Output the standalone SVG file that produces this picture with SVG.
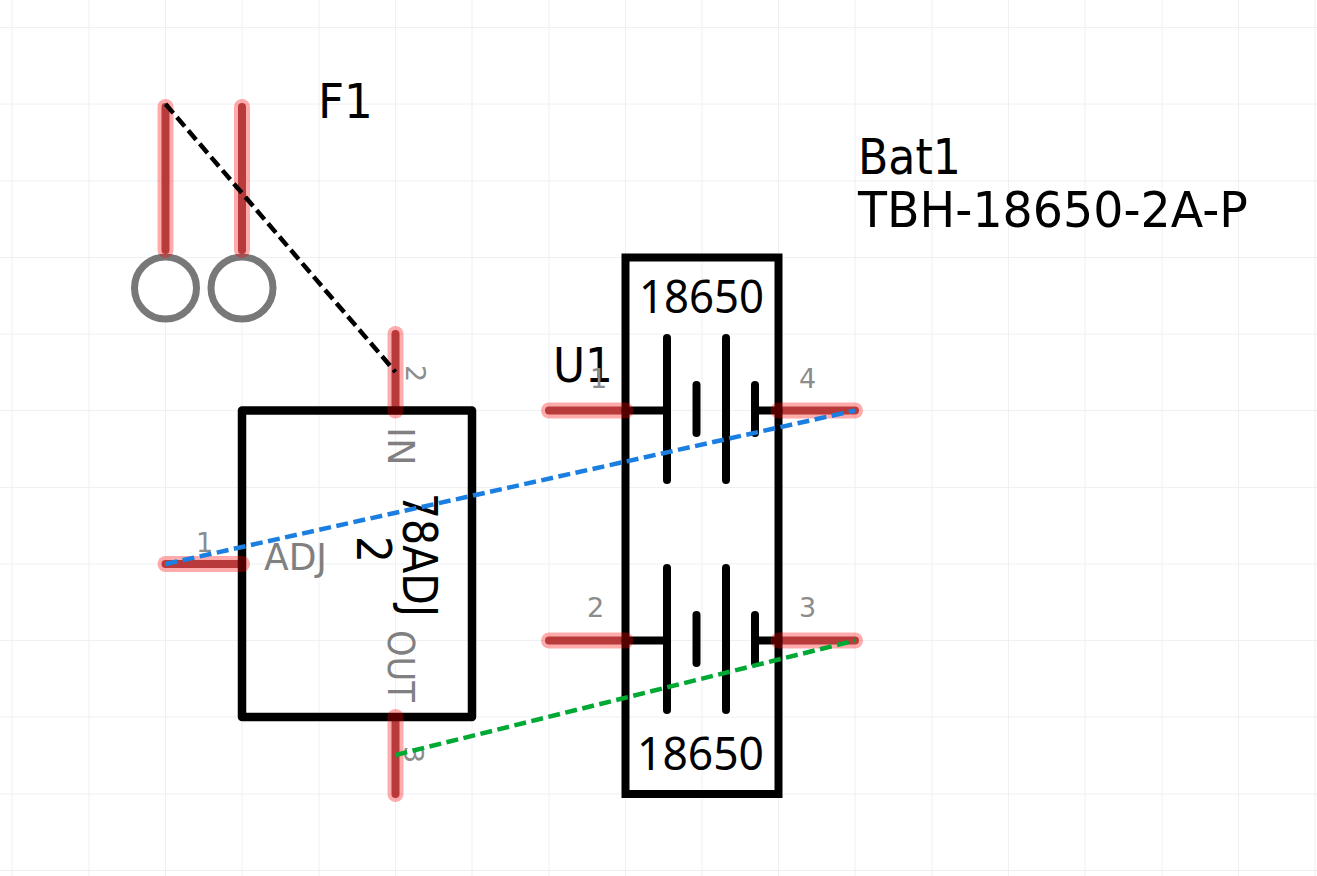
<svg xmlns="http://www.w3.org/2000/svg" width="1317" height="876" viewBox="0 0 1317 876">
<style>
text{font-family:"DejaVu Sans",sans-serif}
.grid line{stroke:#eef0f3;stroke-width:1}
.glow{stroke:#ff0000;stroke-opacity:.33;stroke-width:16;stroke-linecap:round;fill:none}
.pin{stroke:#965757;stroke-width:8;stroke-linecap:round;fill:none}
.box{stroke:#000;stroke-width:8.5;stroke-linejoin:round;fill:none}
.box2{stroke:#000;stroke-width:8;stroke-linejoin:miter;fill:none}
.blk{stroke:#000;stroke-width:8;stroke-linecap:round;fill:none}
.gry{stroke:#787878;stroke-width:7;fill:#fff}
.t{font-size:48px;fill:#000}
.d{font-family:"Noto Sans",sans-serif;font-size:46px;fill:#000}
.l{font-size:37px;fill:#808080}
.n{font-size:27px;fill:#8c8c8c}
.c{fill:none;stroke-width:4.5;stroke-dasharray:12 5.5}
</style>
<rect width="1317" height="876" fill="#fff"/>
<g class="grid">
<line x1="12" y1="0" x2="12" y2="876"/><line x1="89" y1="0" x2="89" y2="876"/><line x1="165.5" y1="0" x2="165.5" y2="876"/><line x1="242" y1="0" x2="242" y2="876"/><line x1="319" y1="0" x2="319" y2="876"/><line x1="395.5" y1="0" x2="395.5" y2="876"/><line x1="472" y1="0" x2="472" y2="876"/><line x1="549" y1="0" x2="549" y2="876"/><line x1="625.5" y1="0" x2="625.5" y2="876"/><line x1="702" y1="0" x2="702" y2="876"/><line x1="778.5" y1="0" x2="778.5" y2="876"/><line x1="855" y1="0" x2="855" y2="876"/><line x1="932" y1="0" x2="932" y2="876"/><line x1="1008.5" y1="0" x2="1008.5" y2="876"/><line x1="1085" y1="0" x2="1085" y2="876"/><line x1="1162" y1="0" x2="1162" y2="876"/><line x1="1238.5" y1="0" x2="1238.5" y2="876"/><line x1="1315" y1="0" x2="1315" y2="876"/>
<line x1="0" y1="27.5" x2="1317" y2="27.5"/><line x1="0" y1="104" x2="1317" y2="104"/><line x1="0" y1="181" x2="1317" y2="181"/><line x1="0" y1="257.5" x2="1317" y2="257.5"/><line x1="0" y1="334" x2="1317" y2="334"/><line x1="0" y1="410.5" x2="1317" y2="410.5"/><line x1="0" y1="487.5" x2="1317" y2="487.5"/><line x1="0" y1="564" x2="1317" y2="564"/><line x1="0" y1="640.5" x2="1317" y2="640.5"/><line x1="0" y1="717" x2="1317" y2="717"/><line x1="0" y1="794" x2="1317" y2="794"/><line x1="0" y1="870.5" x2="1317" y2="870.5"/>
</g>
<g id="F1">
<circle class="gry" cx="165.500" cy="288" r="31"/>
<circle class="gry" cx="242" cy="288" r="31"/>
<line class="pin" x1="165.5" y1="107" x2="165.5" y2="250"/><line class="glow" x1="165.5" y1="107" x2="165.5" y2="250"/>
<line class="pin" x1="242" y1="107" x2="242" y2="250"/><line class="glow" x1="242" y1="107" x2="242" y2="250"/>
<text class="t" x="318" y="118" textLength="55" lengthAdjust="spacingAndGlyphs">F1</text>
</g>
<g id="U1">
<line class="pin" x1="395.5" y1="334" x2="395.5" y2="410.5"/>
<line class="pin" x1="165.5" y1="564" x2="242" y2="564"/>
<line class="pin" x1="395.5" y1="717" x2="395.5" y2="794"/>
<rect class="box" x="242" y="410.5" width="230" height="306.5"/>
<line class="glow" x1="395.5" y1="334" x2="395.5" y2="410.5"/>
<line class="glow" x1="165.5" y1="564" x2="242" y2="564"/>
<line class="glow" x1="395.5" y1="717" x2="395.5" y2="794"/>
<text class="n" transform="translate(406,365) rotate(90)">2</text>
<text class="n" x="196" y="552">1</text>
<text class="n" transform="translate(404,746) rotate(90)">3</text>
<text class="l" transform="translate(388,427) rotate(90)">IN</text>
<text class="l" x="264" y="570" textLength="63" lengthAdjust="spacingAndGlyphs">ADJ</text>
<text class="l" transform="translate(388,630) rotate(90)" textLength="72" lengthAdjust="spacingAndGlyphs">OUT</text>
<text class="t" x="553" y="382" textLength="60" lengthAdjust="spacingAndGlyphs">U1</text>
<text class="t" transform="translate(403,493) rotate(90)" textLength="124" lengthAdjust="spacingAndGlyphs">78ADJ</text>
<text class="t" transform="translate(357,536) rotate(90)" textLength="27" lengthAdjust="spacingAndGlyphs">2</text>
</g>
<g id="Bat1">
<line class="pin" x1="549" y1="410.5" x2="625.5" y2="410.5"/>
<line class="pin" x1="549" y1="640.5" x2="625.5" y2="640.5"/>
<line class="pin" x1="778.5" y1="410.5" x2="855" y2="410.5"/>
<line class="pin" x1="778.5" y1="640.5" x2="855" y2="640.5"/>
<rect class="box2" x="625.5" y="257.5" width="153" height="536.5"/>
<g class="blk">
<line x1="625.5" y1="410.5" x2="667" y2="410.5"/><line x1="667" y1="338" x2="667" y2="480"/><line x1="696.5" y1="385" x2="696.5" y2="433"/><line x1="726" y1="338" x2="726" y2="480"/><line x1="755" y1="385" x2="755" y2="433"/><line x1="755" y1="410.5" x2="778.5" y2="410.5"/>
<line x1="625.5" y1="640.5" x2="667" y2="640.5"/><line x1="667" y1="568" x2="667" y2="710"/><line x1="696.5" y1="615" x2="696.5" y2="663"/><line x1="726" y1="568" x2="726" y2="710"/><line x1="755" y1="615" x2="755" y2="663"/><line x1="755" y1="640.5" x2="778.5" y2="640.5"/>
</g>
<line class="glow" x1="549" y1="410.5" x2="625.5" y2="410.5"/>
<line class="glow" x1="549" y1="640.5" x2="625.5" y2="640.5"/>
<line class="glow" x1="778.5" y1="410.5" x2="855" y2="410.5"/>
<line class="glow" x1="778.5" y1="640.5" x2="855" y2="640.5"/>
<text class="n" x="590" y="388">1</text>
<text class="n" x="587" y="617">2</text>
<text class="n" x="799" y="617">3</text>
<text class="n" x="799" y="388">4</text>
<text class="d" x="639" y="313" textLength="125" lengthAdjust="spacingAndGlyphs">18650</text>
<text class="d" x="637" y="770" textLength="127" lengthAdjust="spacingAndGlyphs">18650</text>
<text class="t" x="858" y="174" style="font-size:50px" textLength="103" lengthAdjust="spacingAndGlyphs">Bat1</text>
<text class="t" x="858" y="227" style="font-size:50px" textLength="390" lengthAdjust="spacingAndGlyphs">TBH-18650-2A-P</text>
</g>
<g id="connectors">
<line class="c" stroke="#000000" x1="165.5" y1="104" x2="395.5" y2="372"/>
<line class="c" stroke="#1a7fe0" x1="165.5" y1="564" x2="855" y2="410.5"/>
<line class="c" stroke="#00a933" x1="395.5" y1="755" x2="855" y2="640.5"/>
</g>
</svg>
